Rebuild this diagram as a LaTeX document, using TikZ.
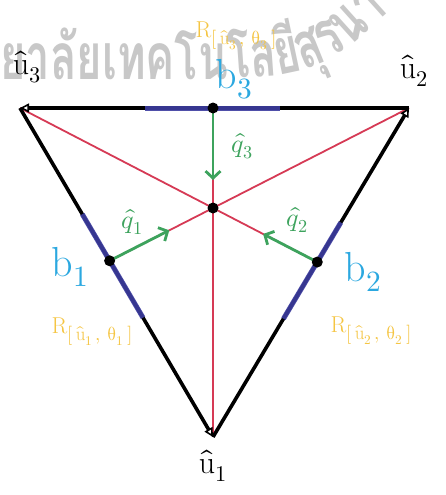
\documentclass[tikz,border=0pt]{standalone}
\usepackage{fontspec}
\usepackage{unicode-math}
\setmathfont{Latin Modern Math}
\newfontfamily\thaifont[Script=Thai, FakeStretch=0.68]{Loma}
\usetikzlibrary{arrows.meta,calc}
\definecolor{navyseg}{HTML}{3C3CA0}
\definecolor{redline}{HTML}{D63A55}
\definecolor{greenq}{HTML}{3DA35D}
\definecolor{cyanlab}{HTML}{2BA8E0}
\definecolor{yellowlab}{HTML}{F5C542}
\definecolor{wmgray}{HTML}{C8C8C8}
\newcommand{\rlab}[2]{$\mathrm{R}$\raisebox{-7pt}{\fontsize{19}{23}\selectfont$[\,\hat{\mathrm{u}}_{#1}\,,\,\symup{\theta}_{#2}\,]$}}
\tikzset{
  edgeline/.style={line width=3.6pt, black, -{Triangle[open, length=9pt, width=9pt, line width=1.6pt]}},
  navyline/.style={line width=5pt, navyseg, opacity=0.9},
  redl/.style={line width=1.8pt, redline},
  qarrow/.style={line width=2.8pt, greenq, -{Straight Barb[length=7pt, width=15pt]}},
  dotp/.style={circle, fill=black, inner sep=0pt, minimum size=11pt},
  ulabel/.style={font=\fontsize{32}{38}\selectfont},
  blabel/.style={text=cyanlab, font=\fontsize{42}{48}\selectfont},
  rlabel/.style={text=yellowlab, font=\fontsize{23}{27}\selectfont},
  qlabel/.style={text=greenq, font=\fontsize{26}{30}\selectfont},
  wmark/.style={text=wmgray, font=\thaifont\bfseries\fontsize{64}{70}\selectfont, inner sep=0pt, anchor=base west}
}
\begin{document}
\begin{tikzpicture}[x=1pt,y=-1pt]
\useasboundingbox (0,0) rectangle (446,495);
\clip (0,0) rectangle (446,495);
\fill[white] (0,0) rectangle (446,495);
% watermark (text along an arc, in pieces)
\node[wmark] (w1) at (0,79) {ยาลัยเทคโน};
\node[wmark, rotate=4] (w2) at (w1.base east) {โล};
\node[wmark, rotate=12] (w3) at (w2.base east) {ยี};
\node[wmark, rotate=22] (w4) at (w3.base east) {สุ};
\node[wmark, rotate=32] (w5) at (w4.base east) {ร};
\node[wmark, rotate=42] (w6) at (w5.base east) {นา};
% geometry
\coordinate (A) at (213,437);
\coordinate (B) at (409,108);
\coordinate (C) at (20,108);
\coordinate (O) at (213,208);
\coordinate (b1) at (intersection of B--O and C--A);
\coordinate (b2) at (intersection of C--O and A--B);
\coordinate (b3) at (intersection of A--O and B--C);
% medians
\draw[redl] (C) -- (b2);
\draw[redl] (B) -- (b1);
\draw[redl] (A) -- (b3);
% triangle edges
\draw[edgeline] (C) -- (A);
\draw[edgeline] (A) -- (B);
\draw[edgeline] (B) -- (C);
% blue segments
\draw[navyline] ($(b3)!68pt!(C)$) -- ($(b3)!67pt!(B)$);
\draw[navyline] ($(b1)!54pt!(C)$) -- ($(b1)!66pt!(A)$);
\draw[navyline] ($(b2)!46pt!(B)$) -- ($(b2)!66pt!(A)$);
% green arrows
\coordinate (q1) at ($(b1)!67pt!(O)$);
\coordinate (q2) at ($(b2)!61pt!(O)$);
\coordinate (q3) at ($(b3)!72pt!(O)$);
\draw[qarrow] (b1) -- (q1);
\draw[qarrow] (b2) -- (q2);
\draw[qarrow] (b3) -- (q3);
% dots
\node[dotp] (d1) at (b1) {};
\node[dotp] (d2) at (b2) {};
\node[dotp] (d3) at (b3) {};
\node[dotp] (dO) at (O) {};
% labels
\node[ulabel] (lu3) at (27,67) {$\hat{\mathrm{u}}_3$};
\node[ulabel] (lu2) at (414,71) {$\hat{\mathrm{u}}_2$};
\node[ulabel] (lu1) at (213,466) {$\hat{\mathrm{u}}_1$};
\node[blabel] (lb3) at (234,79) {$\mathrm{b}_3$};
\node[blabel] (lb1) at (70,267) {$\mathrm{b}_1$};
\node[blabel] (lb2) at (363,272) {$\mathrm{b}_2$};
\node[rlabel] (lr3) at (236,36) {\rlab{3}{3}};
\node[rlabel] (lr1) at (92,332) {\rlab{1}{1}};
\node[rlabel] (lr2) at (371,331) {\rlab{2}{2}};
\node[qlabel] (lq1) at (132,222) {$\hat{q}_1$};
\node[qlabel] (lq2) at (297,220) {$\hat{q}_2$};
\node[qlabel] (lq3) at (242,146) {$\hat{q}_3$};
\end{tikzpicture}
\end{document}
